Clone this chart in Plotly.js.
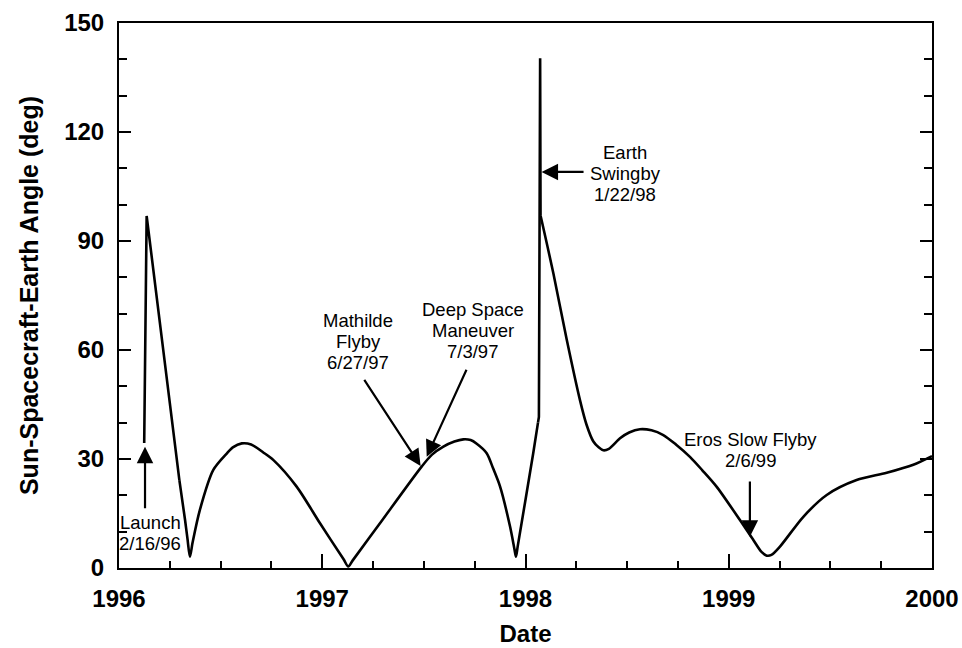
<!DOCTYPE html>
<html>
<head>
<meta charset="utf-8">
<script src="https://cdn.plot.ly/plotly-3.0.1.min.js"></script>
<style>html,body{margin:0;padding:0;background:#fff;}#chart{width:962px;height:648px;}</style>
</head>
<body>
<div id="chart"></div>
<script>
// Decimal-year dates and Sun-Spacecraft-Earth angle (deg)
const years = [
  1996.124, 1996.136, 1996.297, 1996.325, 1996.337, 1996.349, 1996.362, 1996.398, 1996.464, 1996.53, 1996.56, 1996.604, 1996.65,
  1996.71, 1996.76, 1996.874, 1996.989, 1997.105, 1997.128, 1997.15,
  1997.284, 1997.489, 1997.54, 1997.596, 1997.65, 1997.694, 1997.73, 1997.76, 1997.809, 1997.84, 1997.875, 1997.924, 1997.945, 1997.953, 1997.962,
  1998.038, 1998.0615, 1998.066, 1998.072, 1998.074,
  1998.137, 1998.203, 1998.268, 1998.30, 1998.334, 1998.36, 1998.383, 1998.41, 1998.465, 1998.51, 1998.563, 1998.62,
  1998.678, 1998.74, 1998.809, 1998.87, 1998.94, 1999.055, 1999.121, 1999.16, 1999.187, 1999.21, 1999.252,
  1999.367, 1999.482, 1999.629, 1999.777, 1999.908, 2000.0
];
const angles = [
  34.4, 96.9, 24.2, 13.2, 8.0, 3.1, 7.0, 16.0, 27.0, 31.5, 33.2, 34.3, 34.0,
  31.8, 29.7, 22.4, 12.3, 2.4, 0.4, 2.1,
  12.3, 27.9, 31.2, 33.4, 34.8, 35.4, 35.2, 34.2, 31.6, 27.5, 22.4, 11.4, 5.4, 3.1, 6.1,
  31.6, 40.0, 41.6, 140.3, 97.0,
  81.1, 62.8, 46.2, 39.5, 34.8, 33.2, 32.4, 32.8, 35.7, 37.3, 38.2, 37.9,
  36.6, 34.0, 30.6, 26.9, 22.4, 13.2, 7.7, 4.5, 3.4, 3.6, 5.9,
  14.1, 20.1, 24.2, 26.2, 28.4, 30.8
];
// Stretches of the curve that are straight spikes (drawn without smoothing)
const spikeSpans = [[1996.124, 1996.297], [1998.0615, 1998.074]];

// Events: label, arrow tip (x,y), arrow tail (x,y), label centre (x,y)
const eventLabels = ["Launch<br>2/16/96", "Mathilde<br>Flyby<br>6/27/97", "Deep Space<br>Maneuver<br>7/3/97", "Earth<br>Swingby<br>1/22/98", "Eros Slow Flyby<br>2/6/99"];
const tipX  = [1996.128, 1997.484, 1997.514, 1998.079, 1999.104];
const tipY  = [33.4, 28.1, 30.6, 109.0, 8.6];
const tailX = [1996.128, 1997.202, 1997.713, 1998.293, 1999.104];
const tailY = [16.0, 52.2, 55.0, 109.0, 24.2];
const textX = [1996.153, 1997.177, 1997.74, 1998.49, 1999.106];
const textY = [9.6, 62.3, 65.3, 108.7, 32.5];

const xTicks = [1996, 1997, 1998, 1999, 2000];
const xTickText = ["1996", "1997", "1998", "1999", "2000"];
const yTicks = [0, 30, 60, 90, 120, 150];

const FAM = "Liberation Sans, Arial, sans-serif";
const bold = {family: FAM, size: 24, color: "#000", weight: "bold"};
const LINE_GAP = 21;

const annotations = [];
for (let i = 0; i < eventLabels.length; i++) {
  annotations.push({
    x: tipX[i], y: tipY[i], ax: tailX[i], ay: tailY[i],
    xref: "x", yref: "y", axref: "x", ayref: "y",
    text: "", showarrow: true, arrowhead: 2, arrowsize: 1.5, arrowwidth: 2.2,
    arrowcolor: "#000", standoff: 0, startstandoff: 0
  });
  const lines = eventLabels[i].split("<br>");
  const n = lines.length;
  lines.forEach((ln, k) => {
    annotations.push({
      x: textX[i], y: textY[i], xref: "x", yref: "y",
      text: ln, showarrow: false, xanchor: "center", yanchor: "middle",
      yshift: ((n - 1) / 2 - k) * LINE_GAP,
      font: {family: FAM, size: 18.5, color: "#000"}
    });
  });
}

// Split the curve into smooth and straight pieces
const cuts = [0];
spikeSpans.forEach(s => { cuts.push(years.indexOf(s[0])); cuts.push(years.indexOf(s[1])); });
cuts.push(years.length - 1);
const uniq = [...new Set(cuts)].sort((a, b) => a - b);
const traces = [];
for (let c = 0; c < uniq.length - 1; c++) {
  const a = uniq[c], b = uniq[c + 1];
  const isSpike = spikeSpans.some(s => years[a] === s[0] && years[b] === s[1]);
  traces.push({
    x: years.slice(a, b + 1), y: angles.slice(a, b + 1), type: "scatter", mode: "lines",
    line: {color: "#000", width: 2.6, shape: isSpike ? "linear" : "spline", smoothing: 0.8},
    hoverinfo: "skip"
  });
}

const layout = {
  width: 962, height: 648,
  margin: {l: 119, r: 30, t: 23, b: 80},
  paper_bgcolor: "#fff", plot_bgcolor: "#fff",
  showlegend: false,
  xaxis: {
    range: [1996, 2000], tickmode: "array", tickvals: xTicks, ticktext: xTickText,
    ticks: "inside", ticklen: 14, tickwidth: 2, tickcolor: "#000",
    minor: {dtick: 0.25, tick0: 1996, ticks: "inside", ticklen: 7, tickwidth: 2, tickcolor: "#000", showgrid: false},
    showline: true, linewidth: 2, linecolor: "#000", mirror: true,
    showgrid: false, zeroline: false,
    tickfont: bold, ticklabelstandoff: 8,
    title: {text: "Date", font: {family: FAM, size: 24, color: "#000", weight: "bold"}, standoff: 14}
  },
  yaxis: {
    range: [0, 150], tickmode: "array", tickvals: yTicks,
    ticks: "inside", ticklen: 12, tickwidth: 2, tickcolor: "#000",
    minor: {dtick: 10, tick0: 0, ticks: "inside", ticklen: 8, tickwidth: 2, tickcolor: "#000", showgrid: false},
    showline: true, linewidth: 2, linecolor: "#000", mirror: "ticks",
    showgrid: false, zeroline: false,
    tickfont: bold, ticklabelstandoff: 8,
    title: {text: "Sun-Spacecraft-Earth Angle (deg)", font: {family: FAM, size: 25, color: "#000", weight: "bold"}, standoff: 18}
  },
  annotations: annotations
};

Plotly.newPlot("chart", traces, layout, {displayModeBar: false, staticPlot: true});
</script>
</body>
</html>
